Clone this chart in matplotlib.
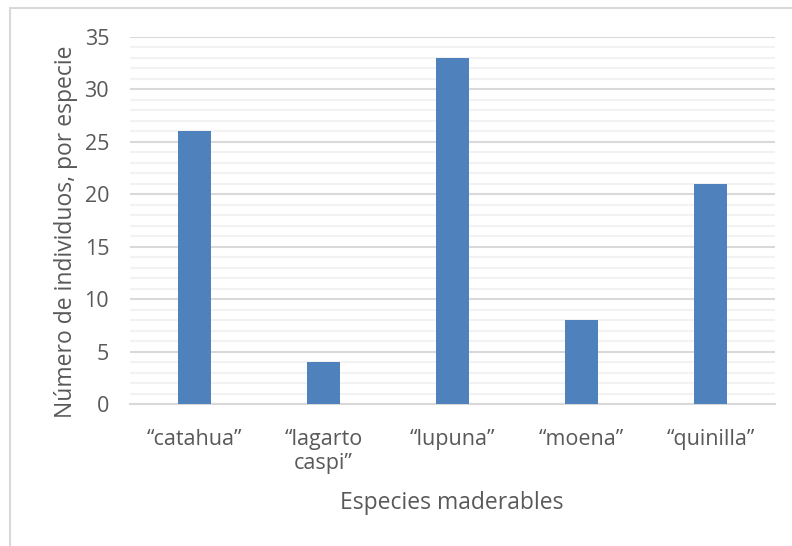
import matplotlib.pyplot as plt
from matplotlib.patches import Rectangle
from matplotlib.ticker import MultipleLocator

categories = ["\u201ccatahua\u201d", "\u201clagarto\ncaspi\u201d", "\u201clupuna\u201d", "\u201cmoena\u201d", "\u201cquinilla\u201d"]
counts = [26, 4, 33, 8, 21]

plt.rcParams['font.family'] = ['Open Sans', 'DejaVu Sans']
text_color = '#595959'
W, H = 792, 546

fig = plt.figure(figsize=(W / 100, H / 100), dpi=100)
# chart frame
fig.patches.append(Rectangle((10 / W, -0.01), 1.1, 1 - 8 / H + 0.01,
                             transform=fig.transFigure, fill=False,
                             edgecolor='#d9d9d9', linewidth=1.5))

ax = fig.add_axes([130 / W, 1 - 404 / H, 645 / W, 367 / H])
x = range(len(categories))
ax.bar(x, counts, width=0.25, color='#4f81bd', zorder=3)

ax.set_xlim(-0.5, len(categories) - 0.5)
ax.set_ylim(0, 35)
ax.yaxis.set_major_locator(MultipleLocator(5))
ax.yaxis.set_minor_locator(MultipleLocator(1))
ax.grid(which='major', axis='y', color='#d9d9d9', linewidth=1.5, zorder=0)
ax.grid(which='minor', axis='y', color='#f2f2f2', linewidth=1.5, zorder=0)
ax.set_axisbelow(True)

for s in ['top', 'right', 'left']:
    ax.spines[s].set_visible(False)
ax.spines['bottom'].set_color('#d9d9d9')
ax.spines['bottom'].set_linewidth(1.5)

ax.set_xticks(list(x))
ax.set_xticklabels(categories, fontsize=15.5, color=text_color, linespacing=1.2, va='top')
ax.tick_params(axis='x', length=0, pad=18)
ax.tick_params(axis='y', which='both', length=0, pad=15, labelsize=15.5, labelcolor=text_color)

fig.text(452 / W, 1 - 503 / H, 'Especies maderables', fontsize=16.5,
         color=text_color, ha='center', va='center')
fig.text(66 / W, 1 - 232 / H, 'N\u00famero de individuos, por especie', fontsize=16.5,
         color=text_color, ha='center', va='center', rotation=90)

fig.savefig('out.png', dpi=100)
